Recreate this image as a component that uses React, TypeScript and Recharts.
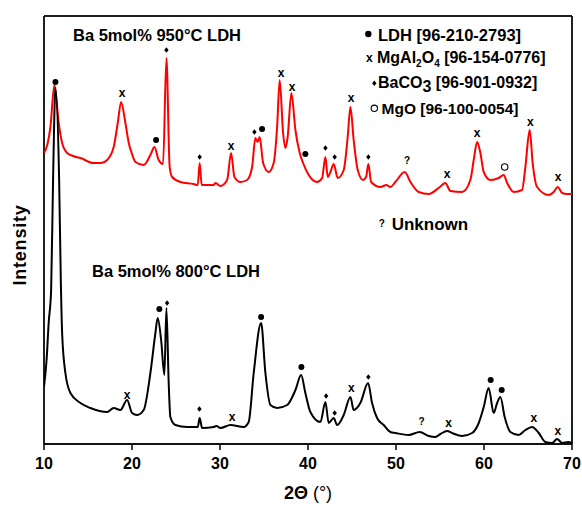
import React from "react";
import { ComposedChart, Line, Scatter, XAxis, YAxis, CartesianGrid, ReferenceLine } from "recharts";

const FONT = '"Liberation Sans", Arial, Helvetica, sans-serif';

// 2θ tick labels
const xTicks = [10, 20, 30, 40, 50, 60, 70];

// Ba 5mol% 950°C LDH (offset pattern, red) : [2θ, intensity a.u.]
const pattern950: [number, number][] = [
  [10.0, 291], [10.4, 300], [10.73, 317], [11.18, 359], [11.67, 321], [12.06, 301], [12.63, 291],
  [13.3, 288], [14.14, 286], [15.61, 281], [16.5, 281], [17.17, 284], [17.92, 297], [18.38, 321], [18.76, 342],
  [19.25, 321], [19.63, 301], [20.0, 290], [20.39, 282], [21.33, 279], [22.09, 289], [22.55, 297],
  [23.03, 284], [23.53, 280], [23.91, 386], [24.28, 277], [24.56, 267], [25.5, 262],
  [27.01, 260], [27.47, 259], [27.69, 281], [27.92, 259], [29.28, 259], [29.48, 261],
  [30.05, 258], [30.81, 264], [31.26, 291], [31.64, 267], [32.32, 262], [33.08, 264],
  [33.65, 277], [34.02, 306], [34.28, 302], [34.51, 307], [34.9, 281], [35.53, 272],
  [36.1, 281], [36.49, 317], [36.78, 364], [37.17, 311], [37.43, 296], [37.69, 307],
  [38.11, 351], [38.57, 314], [39.06, 291], [39.44, 281], [40.08, 269], [41.03, 262],
  [41.6, 266], [41.98, 287], [42.24, 267], [42.55, 272], [42.92, 280], [43.38, 266],
  [44.06, 274], [44.51, 307], [44.82, 337], [45.19, 304], [45.65, 274], [46.26, 264],
  [46.6, 267], [46.86, 280], [47.17, 262], [48.23, 257], [48.91, 259], [49.36, 257],
  [49.93, 262], [50.99, 272], [51.64, 262], [52.58, 252], [53.72, 250], [54.85, 256],
  [55.61, 261], [56.18, 253], [57.51, 252], [58.45, 264], [58.83, 284], [59.22, 302],
  [59.59, 291], [59.97, 272], [60.73, 264], [61.67, 266], [62.24, 269], [62.63, 261],
  [63.38, 252], [64.33, 254], [64.7, 277], [65.19, 314], [65.53, 281], [66.03, 257],
  [67.35, 249], [67.92, 252], [68.38, 257], [68.88, 251], [69.44, 250], [70.0, 250],
];

// Ba 5mol% 800°C LDH (black)
const pattern800: [number, number][] = [
  [10.0, 57], [10.3, 85], [10.53, 121], [10.81, 154], [11.03, 264], [11.3, 356], [11.72, 264],
  [11.92, 159], [12.06, 111], [12.43, 71], [13.0, 51], [14.14, 41], [15.27, 36],
  [17.17, 32], [17.92, 36], [18.68, 34], [19.44, 44], [20.01, 31], [20.58, 29],
  [21.33, 34], [22.09, 71], [22.66, 111], [22.92, 126], [23.31, 104], [23.68, 69],
  [23.91, 136], [24.17, 61], [24.36, 27], [24.93, 19], [26.26, 17], [27.47, 17],
  [27.69, 26], [27.97, 16], [29.28, 17], [29.59, 18], [30.05, 16], [31.18, 19],
  [32.69, 17], [33.26, 22], [33.83, 71], [34.67, 121], [35.16, 71], [35.73, 39],
  [36.49, 36], [37.63, 39], [38.57, 54], [39.22, 69], [39.7, 51], [40.27, 32],
  [41.41, 22], [41.98, 42], [42.35, 21], [42.92, 26], [43.31, 19], [44.06, 29],
  [44.82, 47], [45.19, 34], [45.95, 41], [46.83, 61], [47.28, 41], [47.85, 26],
  [48.6, 19], [49.36, 12], [49.93, 11], [51.44, 9], [52.69, 12], [53.72, 8],
  [54.48, 7], [55.05, 10], [55.81, 13], [56.38, 11], [57.51, 8], [58.65, 11],
  [59.4, 21], [59.97, 37], [60.53, 56], [61.1, 31], [61.49, 41], [61.86, 47],
  [62.35, 27], [63.0, 12], [63.94, 9], [64.7, 14], [65.47, 17], [66.22, 11],
  [66.98, 2], [67.74, 1], [68.31, 5], [68.88, 1], [69.56, 2], [70.0, 1],
];

// Phase identification marks [2θ, height of mark]
const ldhMarks: [number, number][] = [
  [11.3, 362], [22.74, 304], [34.78, 315], [39.7, 290],
  [23.11, 135], [34.67, 127], [39.25, 77], [60.76, 64], [62.01, 54],
];
const spinelMarks: [number, number][] = [
  [18.88, 351], [31.26, 298], [36.94, 371], [38.19, 357], [44.9, 346], [55.81, 270],
  [59.22, 311], [65.27, 322], [68.42, 267],
  [19.44, 49], [31.38, 27], [44.93, 56], [55.99, 21], [65.65, 26], [68.38, 13],
];
const carbonateMarks: [number, number][] = [
  [23.91, 394], [27.69, 287], [33.91, 312], [41.98, 296], [43.03, 287], [46.86, 287],
  [23.99, 141], [27.66, 35], [42.06, 48], [43.03, 31], [46.86, 67],
];
const unknownMarks: [number, number][] = [[51.26, 284], [52.89, 23]];
const mgoMarks: [number, number][] = [[62.35, 277]];

const toRows = (a: [number, number][]) => a.map(([x, y]) => ({ x, y }));

const W = 582;
const H = 510;
const M = { top: 16, right: 10, bottom: 36, left: 44 };
const X_AXIS_H = 30;

const Dot = (p: any) => <circle cx={p.cx} cy={p.cy} r={3} fill="#000" />;
const Cross = (p: any) => (
  <text x={p.cx} y={p.cy} textAnchor="middle" dominantBaseline="central" fontFamily={FONT} fontWeight="bold" fontSize={12} fill="#000">x</text>
);
const Diamond = (p: any) => (
  <polygon points={`${p.cx},${p.cy - 2.8} ${p.cx + 2.2},${p.cy} ${p.cx},${p.cy + 2.8} ${p.cx - 2.2},${p.cy}`} fill="#000" />
);
const Quest = (p: any) => (
  <text x={p.cx} y={p.cy} textAnchor="middle" dominantBaseline="central" fontFamily={FONT} fontWeight="bold" fontSize={10} fill="#000">?</text>
);
const Ring = (p: any) => <circle cx={p.cx} cy={p.cy} r={3.2} fill="#fff" stroke="#000" strokeWidth={1.1} />;

const labelStyle = { fontFamily: FONT, fontWeight: "bold" as const, fontSize: 16.5, fill: "#000" };

export default function App() {
  return (
    <div style={{ position: "relative", width: W, height: H }}>
      <style>{"body{margin:0}"}</style>
      <ComposedChart width={W} height={H} margin={M}>
        <CartesianGrid
          stroke="#111"
          strokeWidth={1.5}
          fill="none"
          verticalCoordinatesGenerator={({ offset }: any) => [offset.left, offset.left + offset.width]}
          horizontalCoordinatesGenerator={({ offset }: any) => [offset.top, offset.top + offset.height]}
        />
        <XAxis
          dataKey="x"
          type="number"
          domain={[10, 70]}
          ticks={xTicks}
          allowDataOverflow
          height={X_AXIS_H}
          tickSize={6}
          tickMargin={8}
          tick={{ fill: "#000", fontSize: 16, fontWeight: "bold", fontFamily: FONT }}
          tickLine={{ stroke: "#000", strokeWidth: 1.5 }}
          axisLine={{ stroke: "#000", strokeWidth: 1.5 }}
        />
        <YAxis dataKey="y" type="number" domain={[0, 428]} allowDataOverflow hide />
        <ReferenceLine x={10} stroke="#111" strokeWidth={1.5} ifOverflow="visible" />
        <ReferenceLine x={70} stroke="#111" strokeWidth={1.5} ifOverflow="visible" />
        <ReferenceLine y={428} stroke="#111" strokeWidth={1.5} ifOverflow="visible" />
        <Line data={toRows(pattern950)} dataKey="y" type="monotone" stroke="#ff0000" strokeWidth={2} dot={false} isAnimationActive={false} />
        <Line data={toRows(pattern800)} dataKey="y" type="monotone" stroke="#000" strokeWidth={2} dot={false} isAnimationActive={false} />
        <Scatter data={toRows(ldhMarks)} dataKey="y" shape={Dot} isAnimationActive={false} />
        <Scatter data={toRows(spinelMarks)} dataKey="y" shape={Cross} isAnimationActive={false} />
        <Scatter data={toRows(carbonateMarks)} dataKey="y" shape={Diamond} isAnimationActive={false} />
        <Scatter data={toRows(unknownMarks)} dataKey="y" shape={Quest} isAnimationActive={false} />
        <Scatter data={toRows(mgoMarks)} dataKey="y" shape={Ring} isAnimationActive={false} />
      </ComposedChart>
      <svg width={W} height={H} style={{ position: "absolute", left: 0, top: 0, pointerEvents: "none" }}>
        <text x={73} y={41} {...labelStyle}>Ba 5mol% 950°C LDH</text>
        <text x={92} y={277} {...labelStyle}>Ba 5mol% 800°C LDH</text>

        <circle cx={368.3} cy={34} r={3.2} fill="#000" />
        <text x={378} y={41} {...labelStyle}>LDH [96-210-2793]</text>

        <text x={369.3} y={57.5} textAnchor="middle" dominantBaseline="central" fontFamily={FONT} fontWeight="bold" fontSize={12}>x</text>
        <text x={377} y={63} {...labelStyle} fontSize={16}>
          MgAl<tspan fontSize={10} dy={4}>2</tspan><tspan dy={-4}>O</tspan><tspan fontSize={10} dy={4}>4</tspan><tspan dy={-4}> [96-154-0776]</tspan>
        </text>

        <polygon points="374.3,80.5 376.5,83.3 374.3,86.1 372.1,83.3" fill="#000" />
        <text x={378} y={88} {...labelStyle} fontSize={16}>
          BaCO<tspan dy={4}>3</tspan><tspan dy={-4}> [96-901-0932]</tspan>
        </text>

        <circle cx={374.3} cy={108.3} r={3.2} fill="#fff" stroke="#000" strokeWidth={1.1} />
        <text x={381.5} y={113.5} {...labelStyle} fontSize={15.5}>MgO [96-100-0054]</text>

        <text x={381.7} y={223} textAnchor="middle" dominantBaseline="central" fontFamily={FONT} fontWeight="bold" fontSize={10}>?</text>
        <text x={391.7} y={229.5} {...labelStyle} fontSize={17}>Unknown</text>

        <text
          x={20}
          y={245}
          transform="rotate(-90 20 245)"
          textAnchor="middle"
          dominantBaseline="central"
          fontFamily={FONT}
          fontWeight="bold"
          fontSize={18}
          letterSpacing={0.8}
        >
          Intensity
        </text>

        <text x={308} y={499} textAnchor="middle" fontFamily={FONT} fontSize={18}>
          <tspan fontWeight="bold">2Θ</tspan> (°)
        </text>
      </svg>
    </div>
  );
}
